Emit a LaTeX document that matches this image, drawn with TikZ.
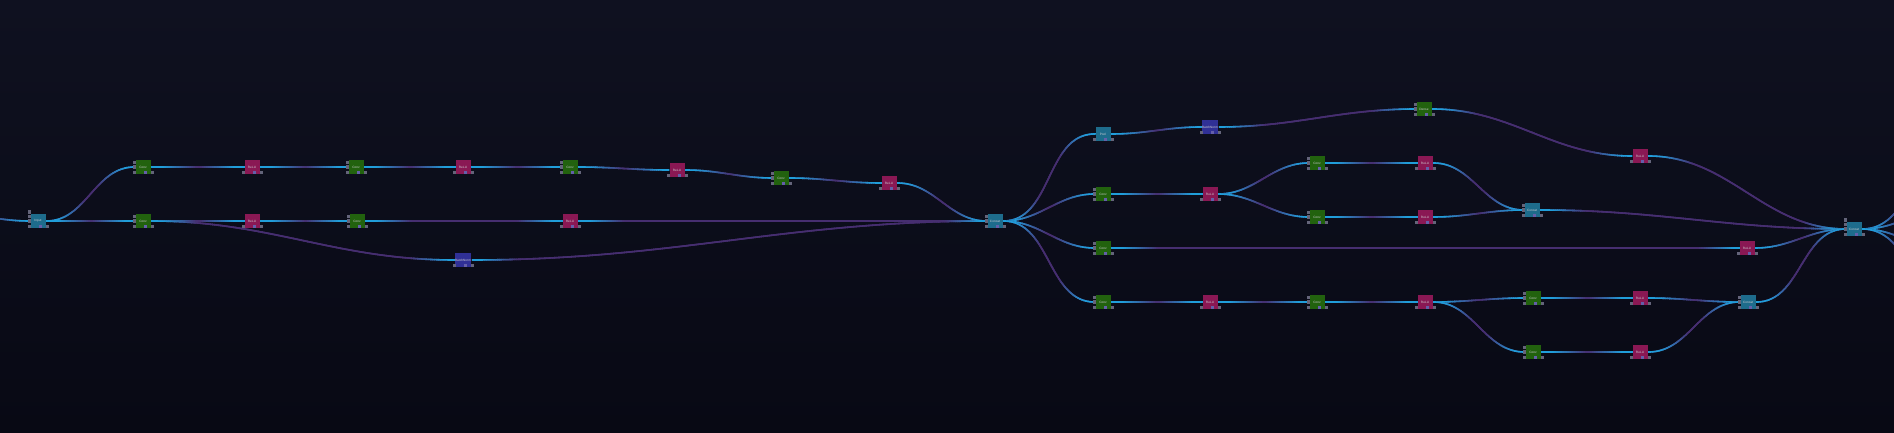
\documentclass[tikz,border=0pt]{standalone}
\usepackage{fontspec}
\setmainfont{Liberation Sans}
\usetikzlibrary{backgrounds, decorations.markings}

\definecolor{bgtop}{RGB}{15,17,32}
\definecolor{bgbot}{RGB}{8,9,20}
\definecolor{catteal}{RGB}{30,108,140}
\definecolor{convgreen}{RGB}{34,98,14}
\definecolor{relumag}{RGB}{138,24,84}
\definecolor{normblue}{RGB}{48,48,150}
\definecolor{portgrey}{RGB}{100,100,122}
\definecolor{portmid}{RGB}{100,95,170}
\definecolor{wirecyan}{RGB}{32,158,218}
\definecolor{wirepurple}{RGB}{70,46,112}
\definecolor{optext}{RGB}{205,205,210}

\newcommand{\opfont}{\fontsize{0.9}{1.1}\selectfont}
% one short piece of wire, cyan near the ends and purple in the middle
\newcommand{\glowseg}{%
    \pgfmathsetmacro\glowd{min(\pgfkeysvalueof{/pgf/decoration/mark info/distance from start},
        \pgfdecoratedpathlength-\pgfkeysvalueof{/pgf/decoration/mark info/distance from start})}%
    \pgfmathtruncatemacro\glowp{max(0,min(100,130-10*\glowd))}%
    \draw[line width=0.45pt, color=wirecyan!\glowp!wirepurple] (0,0) -- (0.8pt,0);}

\begin{document}
\begin{tikzpicture}[
        x=0.1mm, y=-0.1mm,
        op/.style={rectangle, inner sep=0pt, minimum width=1.5mm, minimum height=1.4mm, text=optext, font=\opfont},
        convbox/.style={op, fill=convgreen},
        relubox/.style={op, fill=relumag},
        catbox/.style={op, fill=catteal},
        normbox/.style={op, fill=normblue},
        port/.style={fill=portgrey},
        midport/.style={fill=portmid},
        wire/.style={draw=wirepurple, line width=0.45pt, out=0, in=180,
            postaction={decorate, decoration={markings,
                mark=between positions 0 and 1 step 0.6pt with {\glowseg}}}}
    ]
        \useasboundingbox (0,0) rectangle (1894,433);

        % Left block
        \node[catbox] (inp) at (38,221) {Input};
        \node[convbox] (ca1) at (143,167) {Conv};
        \node[relubox] (ra1) at (252,167) {ReLU};
        \node[convbox] (ca2) at (356,167) {Conv};
        \node[relubox] (ra2) at (463,167) {ReLU};
        \node[convbox] (ca3) at (570,167) {Conv};
        \node[relubox] (ra3) at (677,170) {ReLU};
        \node[convbox] (ca4) at (781,178) {Conv};
        \node[relubox] (ra4) at (889,183) {ReLU};
        \node[convbox] (cb1) at (143,221) {Conv};
        \node[relubox] (rb1) at (252,221) {ReLU};
        \node[convbox] (cb2) at (357,221) {Conv};
        \node[relubox] (rb2) at (570,221) {ReLU};
        \node[normbox] (bn1) at (463,260) {BatchNorm};
        \node[catbox] (cat1) at (995,221) {Concat};

        % Right block
        \node[catbox] (pool) at (1103,134) {Pool};
        \node[normbox] (bn2) at (1210,127) {BatchNorm};
        \node[convbox] (dn) at (1424,109) {Dense};
        \node[relubox] (rt) at (1640,156) {ReLU};
        \node[convbox] (cc1) at (1103,194) {Conv};
        \node[relubox] (rc1) at (1210,194) {ReLU};
        \node[convbox] (cc2) at (1317,163) {Conv};
        \node[relubox] (rc2) at (1425,163) {ReLU};
        \node[convbox] (cc3) at (1317,217) {Conv};
        \node[relubox] (rc3) at (1425,217) {ReLU};
        \node[catbox] (cat2) at (1532,210) {Concat};
        \node[convbox] (cd1) at (1103,248) {Conv};
        \node[relubox] (rd1) at (1747,248) {ReLU};
        \node[convbox] (ce1) at (1103,302) {Conv};
        \node[relubox] (re1) at (1210,302) {ReLU};
        \node[convbox] (ce2) at (1317,302) {Conv};
        \node[relubox] (re2) at (1425,302) {ReLU};
        \node[convbox] (ce3) at (1533,298) {Conv};
        \node[relubox] (re3) at (1640,298) {ReLU};
        \node[convbox] (ce4) at (1533,352) {Conv};
        \node[relubox] (re4) at (1640,352) {ReLU};
        \node[catbox] (cat3) at (1748,302) {Concat};
        \node[catbox] (catF) at (1854,229) {Concat};

        % Loose ends beyond the page
        \coordinate (src) at (-60,212);
        \coordinate (o1) at (1960,150);
        \coordinate (o2) at (1960,205);
        \coordinate (o3) at (1960,255);
        \coordinate (o4) at (1960,305);

        % Ports
        \foreach \n in {inp,ca1,ra1,ca2,ra2,ca3,ra3,ca4,ra4,cb1,rb1,cb2,rb2,bn1,cat1,pool,bn2,dn,rt,cc1,rc1,cc2,rc2,cc3,rc3,cat2,cd1,rd1,ce1,re1,ce2,re2,ce3,re3,ce4,re4,cat3,catF} {
            \fill[port] ([shift={(-10.5,4)}]\n.center) rectangle +(3.2,3.2);
            \fill[midport] ([shift={(0.5,4)}]\n.center) rectangle +(3.2,3.2);
            \fill[port] ([shift={(7.5,4)}]\n.center) rectangle +(3.2,3.2);
        }
        \foreach \n in {inp,ca1,ca2,ca3,ca4,cb1,cb2,cat1,dn,cc1,cc2,cc3,cat2,cd1,ce1,ce2,ce3,ce4,cat3,catF} {
            \fill[port] ([shift={(-10.5,-6)}]\n.center) rectangle +(3.2,3.2);
            \fill[port] ([shift={(-10.5,-1.5)}]\n.center) rectangle +(3.2,3.2);
        }
        \fill[port] ([shift={(-10.5,-10.5)}]inp.center) rectangle +(3.2,3.2);
        \fill[port] ([shift={(-10.5,-10.5)}]catF.center) rectangle +(3.2,3.2);

        \begin{pgfonlayer}{background}
        \shade[top color=bgtop, bottom color=bgbot] (0,0) rectangle (1894,433);

        % Wires
        \draw[wire] (src) to (inp.west);
        \draw[wire] (inp.east) to (ca1.west);
        \draw[wire] (inp.east) to (cb1.west);
        \draw[wire] (ca1.east) to (ra1.west);
        \draw[wire] (ra1.east) to (ca2.west);
        \draw[wire] (ca2.east) to (ra2.west);
        \draw[wire] (ra2.east) to (ca3.west);
        \draw[wire] (ca3.east) to (ra3.west);
        \draw[wire] (ra3.east) to (ca4.west);
        \draw[wire] (ca4.east) to (ra4.west);
        \draw[wire] (ra4.east) to (cat1.west);
        \draw[wire] (cb1.east) to (rb1.west);
        \draw[wire] (rb1.east) to (cb2.west);
        \draw[wire] (cb2.east) to (rb2.west);
        \draw[wire] (rb2.east) to (cat1.west);
        \draw[wire] (cb1.east) to (bn1.west);
        \draw[wire] (bn1.east) to (cat1.west);

        \draw[wire] (cat1.east) to (pool.west);
        \draw[wire] (pool.east) to (bn2.west);
        \draw[wire] (bn2.east) to (dn.west);
        \draw[wire] (dn.east) to (rt.west);
        \draw[wire] (rt.east) to (catF.west);
        \draw[wire] (cat1.east) to (cc1.west);
        \draw[wire] (cc1.east) to (rc1.west);
        \draw[wire] (rc1.east) to (cc2.west);
        \draw[wire] (rc1.east) to (cc3.west);
        \draw[wire] (cc2.east) to (rc2.west);
        \draw[wire] (cc3.east) to (rc3.west);
        \draw[wire] (rc2.east) to (cat2.west);
        \draw[wire] (rc3.east) to (cat2.west);
        \draw[wire] (cat2.east) to (catF.west);
        \draw[wire] (cat1.east) to (cd1.west);
        \draw[wire] (cd1.east) to (rd1.west);
        \draw[wire] (rd1.east) to (catF.west);
        \draw[wire] (cat1.east) to (ce1.west);
        \draw[wire] (ce1.east) to (re1.west);
        \draw[wire] (re1.east) to (ce2.west);
        \draw[wire] (ce2.east) to (re2.west);
        \draw[wire] (re2.east) to (ce3.west);
        \draw[wire] (re2.east) to (ce4.west);
        \draw[wire] (ce3.east) to (re3.west);
        \draw[wire] (ce4.east) to (re4.west);
        \draw[wire] (re3.east) to (cat3.west);
        \draw[wire] (re4.east) to (cat3.west);
        \draw[wire] (cat3.east) to (catF.west);

        \draw[wire] (catF.east) to (o1);
        \draw[wire] (catF.east) to (o2);
        \draw[wire] (catF.east) to (o3);
        \draw[wire] (catF.east) to (o4);
        \end{pgfonlayer}
    \end{tikzpicture}
\end{document}
